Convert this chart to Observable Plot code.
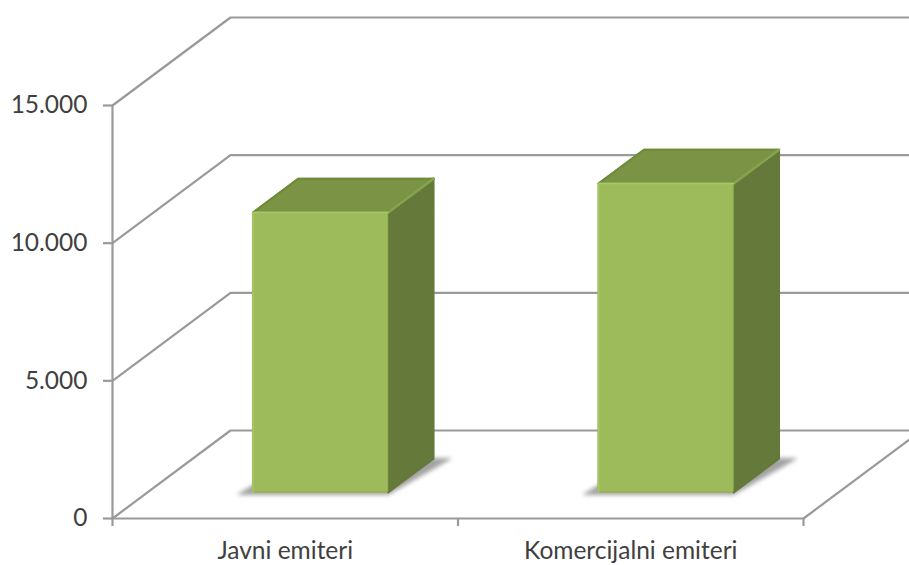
<!DOCTYPE html>
<html>
<head>
<meta charset="utf-8">
<script src="https://cdn.jsdelivr.net/npm/d3@7"></script>
<script src="https://cdn.jsdelivr.net/npm/@observablehq/plot@0.6"></script>
<style>
  html, body { margin: 0; padding: 0; background: #fff; overflow: hidden; }
  svg { display: block; }
</style>
</head>
<body>
<div id="chart"></div>
<script>
// Broadcasters by type
const categories = ["Javni emiteri", "Komercijalni emiteri"];
const values = [10170, 11220];
const valueTicks = [0, 5000, 10000, 15000];
const categoryBoundaries = [0, 1, 2];

// Oblique projection: one unit of depth moves a point this far in data space
const depthX = 0.3415;
const depthY = 3196;
const project = (x, v, d) => ({x: x + d * depthX, y: v + d * depthY});

// Column footprint, in category units and depth units
const halfLeft = 0.194;
const halfRight = 0.197;
const depthFront = 0.295;
const depthBack = 0.68;

const colors = {
  front: "#9dbb5b", frontEdge: "#93b04f", frontLight: "#a8c867",
  top: "#7a9345", topEdge: "#6f8b3a", topLight: "#86a34e",
  side: "#64793a", grid: "#9a9a9a", text: "#404040", shadow: "#a2a2a2"
};

const columns = categories.map((name, i) => {
  const c = i + 0.5;
  return {name, v: values[i], x1: c - halfLeft, x2: c + halfRight};
});

// Wall lines: a diagonal on the side wall plus a horizontal on the back wall
const wallLines = valueTicks.flatMap((v) => [
  {...project(0, v, 0), id: v},
  {...project(0, v, 1), id: v},
  {...project(2, v, 1), id: v}
]);
const frame = [
  {...project(0, 15000, 0), id: "left"}, {...project(0, 0, 0), id: "left"},
  {...project(0, 0, 0), id: "front"}, {...project(2, 0, 0), id: "front"},
  {...project(2, 0, 1), id: "front"}
];

const face = (corners) => columns.flatMap((c) =>
  corners(c).map((p) => ({...project(p[0], p[1], p[2]), id: c.name})));

const topFace = face((c) => [[c.x1, c.v, depthFront], [c.x2, c.v, depthFront], [c.x2, c.v, depthBack], [c.x1, c.v, depthBack]]);
const sideFace = face((c) => [[c.x2, 0, depthFront], [c.x2, c.v, depthFront], [c.x2, c.v, depthBack], [c.x2, 0, depthBack]]);
const floorShadow = face((c) => [
  [c.x1 - 0.043, -70, depthFront], [c.x2, -70, depthFront],
  [c.x2 + 0.05, 0, depthBack], [c.x1, 0, depthBack]]);
const topRidge = face((c) => [[c.x2, c.v, depthFront], [c.x2, c.v, depthBack]]);
const topRim = face((c) => [[c.x1, c.v, depthFront], [c.x1, c.v, depthBack], [c.x2, c.v, depthBack]]);
const frontHighlight = face((c) => [[c.x1, 0, depthFront], [c.x1, c.v, depthFront], [c.x2, c.v, depthFront]]);

const filled = (data, fill, extra = {}) => Plot.line(data, {
  x: "x", y: "y", z: "id", curve: "linear-closed", fill, stroke: fill,
  strokeWidth: 2, strokeLinejoin: "round", ...extra
});
const edge = (data, stroke, strokeWidth, extra = {}) => Plot.line(data, {
  x: "x", y: "y", z: "id", stroke, strokeWidth, strokeLinejoin: "round", ...extra
});

const chart = Plot.plot({
  width: 909,
  height: 565,
  marginLeft: 112,
  marginRight: 0,
  marginTop: 0,
  marginBottom: 47,
  style: {fontFamily: "Lato, sans-serif", background: "#fff"},
  x: {type: "linear", domain: [0, 2], range: [112, 803]},
  y: {type: "linear", domain: [0, 15000], range: [518, 105]},
  marks: [
    edge(wallLines, colors.grid, 2.2),
    edge(frame, colors.grid, 2.2),
    filled(floorShadow, colors.shadow, {strokeWidth: 1, imageFilter: "blur(2px)"}),
    filled(sideFace, colors.side),
    filled(topFace, colors.top),
    edge(topRim, colors.topEdge, 2),
    edge(topRidge, colors.topLight, 2.5),
    Plot.rect(columns, {
      x1: (d) => project(d.x1, 0, depthFront).x,
      x2: (d) => project(d.x2, 0, depthFront).x,
      y1: () => project(0, 0, depthFront).y,
      y2: (d) => project(0, d.v, depthFront).y,
      fill: colors.front, stroke: colors.frontEdge, strokeWidth: 1.2, rx: 2
    }),
    edge(frontHighlight, colors.frontLight, 1.5),
    Plot.axisY({
      ticks: valueTicks, tickSize: 9, tickPadding: 16,
      tickFormat: (d) => d3.format(",")(d).replace(/,/g, "."),
      stroke: colors.grid, strokeWidth: 2.2, strokeOpacity: 1,
      fill: colors.text, fontSize: 24.5, label: null
    }),
    Plot.axisX({
      ticks: categoryBoundaries, tickSize: 8, tickFormat: () => "",
      stroke: colors.grid, strokeWidth: 2.2, strokeOpacity: 1, label: null
    }),
    Plot.axisX({
      ticks: categories.map((_, i) => i + 0.5), tickSize: 0, tickPadding: 23,
      tickFormat: (d) => categories[Math.floor(d)],
      fill: colors.text, fontSize: 24.5, label: null
    })
  ]
});
document.getElementById("chart").append(chart);
</script>
</body>
</html>
